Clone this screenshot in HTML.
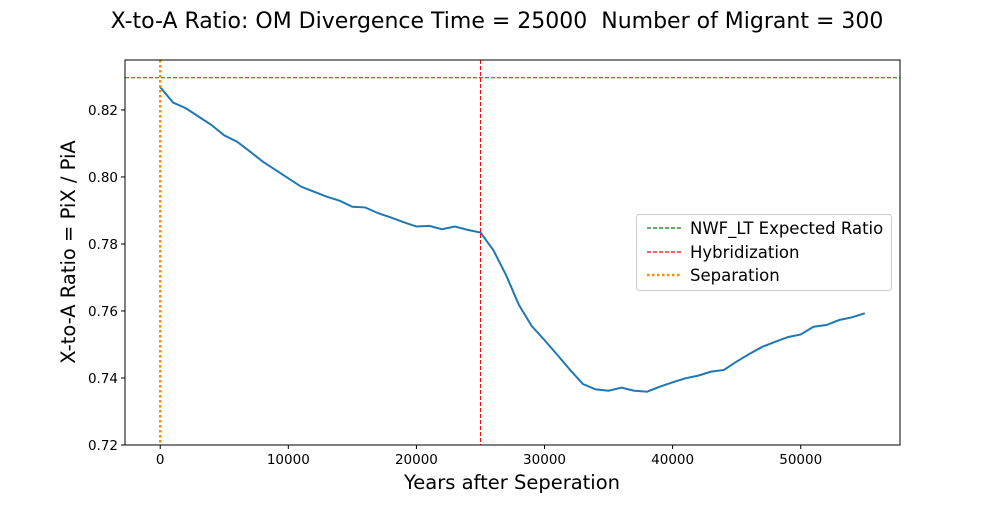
<!DOCTYPE html>
<html><head><meta charset="utf-8"><style>
body{margin:0;background:#fff;}
text{font-family:"DejaVu Sans","Liberation Sans",sans-serif;white-space:pre;}
</style></head><body>
<svg id="chart" width="1000" height="500" xmlns="http://www.w3.org/2000/svg" xml:space="preserve">
<text x="497" y="28" font-size="22" text-anchor="middle">X-to-A Ratio: OM Divergence Time = 25000  Number of Migrant = 300</text>
<g id="plot"></g>
<text x="512" y="489" font-size="19.5" text-anchor="middle">Years after Seperation</text>
<text transform="translate(75,252) rotate(-90)" font-size="19.5" text-anchor="middle">X-to-A Ratio = PiX / PiA</text>
<g>
<rect x="636.5" y="214.5" width="255" height="76" rx="3" fill="#fff" stroke="#ccc"/>
<line x1="647" y1="228" x2="681" y2="228" stroke="green" stroke-width="1.2" stroke-dasharray="4,2"/>
<text x="690" y="234" font-size="16.5">NWF_LT Expected Ratio</text>
<line x1="647" y1="252" x2="681" y2="252" stroke="red" stroke-width="1.2" stroke-dasharray="4,2"/>
<text x="690" y="258" font-size="16.5">Hybridization</text>
<line x1="647" y1="275" x2="681" y2="275" stroke="darkorange" stroke-width="2.5" stroke-dasharray="2.5,2.5"/>
<text x="690" y="281" font-size="16.5">Separation</text>
</g>
</svg>
<script>
const years=[0,1000,2000,3000,4000,5000,6000,7000,8000,9000,10000,11000,12000,13000,14000,15000,16000,17000,18000,19000,20000,21000,22000,23000,24000,25000,26000,27000,28000,29000,30000,31000,32000,33000,34000,35000,36000,37000,38000,39000,40000,41000,42000,43000,44000,45000,46000,47000,48000,49000,50000,51000,52000,53000,54000,55000];
const ratios=[0.8268,0.8222,0.8205,0.8180,0.8155,0.8124,0.8105,0.8076,0.8046,0.8021,0.7996,0.7971,0.7956,0.7941,0.7929,0.7911,0.7909,0.7892,0.7879,0.7865,0.7852,0.7854,0.7844,0.7852,0.7842,0.7834,0.7782,0.7707,0.7618,0.7555,0.7513,0.7469,0.7424,0.7382,0.7366,0.7362,0.7371,0.7362,0.7359,0.7374,0.7387,0.7399,0.7407,0.7419,0.7424,0.7449,0.7472,0.7493,0.7508,0.7522,0.7530,0.7553,0.7558,0.7573,0.7581,0.7593];
const xTicks=[0,10000,20000,30000,40000,50000];
const yTicks=[0.72,0.74,0.76,0.78,0.80,0.82];
const expectedRatio=0.8296;
const hybridization=25000;
const separation=0;
const L=125,R=900,T=60,B=445;
const xMin=-2750,xMax=57750,yMin=0.72,yMax=0.8349;
const X=v=>L+(v-xMin)/(xMax-xMin)*(R-L);
const Y=v=>B-(v-yMin)/(yMax-yMin)*(B-T);
const NS="http://www.w3.org/2000/svg";
const g=document.getElementById('plot');
function mk(t,a){const e=document.createElementNS(NS,t);for(const k in a)e.setAttribute(k,a[k]);g.appendChild(e);return e;}
xTicks.forEach(v=>{
 const l=mk('line',{x1:X(v),x2:X(v),y1:B,y2:B+4,stroke:'#000'});
 
 
 const t=mk('text',{x:X(v),y:B+19,'font-size':13.5,'text-anchor':'middle'});t.textContent=v;
 
 
});
yTicks.forEach(v=>{
 const l=mk('line',{x1:L-4,x2:L,y1:Y(v),y2:Y(v),stroke:'#000'});
 
 
 const t=mk('text',{x:L-7,y:Y(v)+5,'font-size':13.5,'text-anchor':'end'});t.textContent=v.toFixed(2);
 
 
});
const line=mk('polyline',{points:years.map((y,i)=>X(y)+','+Y(ratios[i])).join(' '),fill:'none',stroke:'#1f77b4','stroke-width':2});


const ge=mk('line',{x1:L,x2:R,y1:Y(expectedRatio),y2:Y(expectedRatio),stroke:'green','stroke-width':1,'stroke-dasharray':'4,2'});


const hl=mk('line',{x1:X(hybridization),x2:X(hybridization),y1:T,y2:B,stroke:'red','stroke-width':1,'stroke-dasharray':'4,2'});


const sl=mk('line',{x1:X(separation),x2:X(separation),y1:T,y2:B,stroke:'darkorange','stroke-width':2.5,'stroke-dasharray':'2.5,2.5'});


const fr=mk('rect',{x:L,y:T,width:R-L,height:B-T,fill:'none',stroke:'#000','stroke-width':1});


</script>
</body></html>
